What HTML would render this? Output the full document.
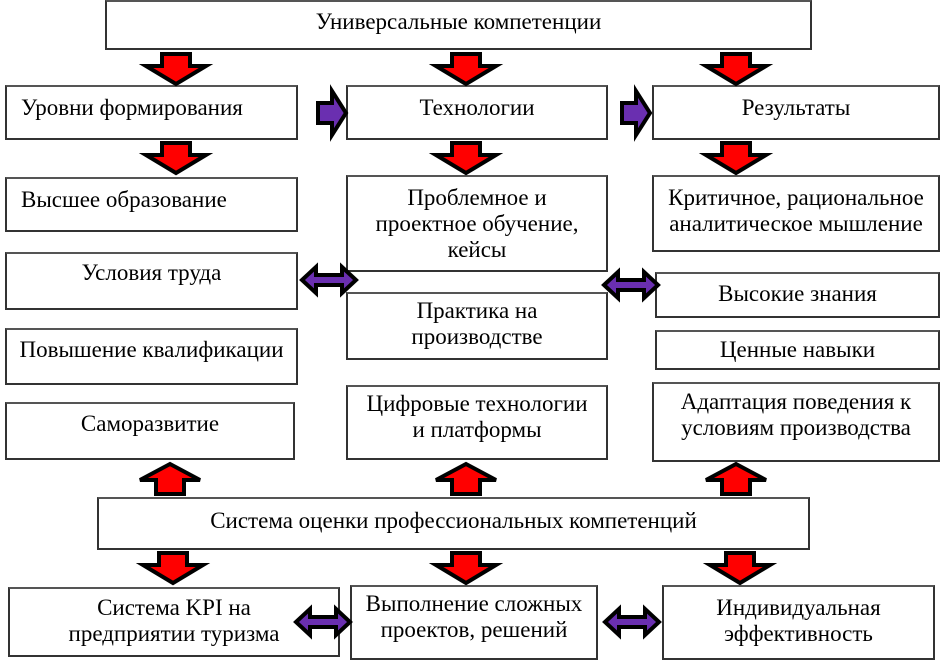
<!DOCTYPE html>
<html><head><meta charset="utf-8"><style>
body{margin:0;background:#fff;width:943px;height:662px;position:relative;overflow:hidden;font-family:"Liberation Serif",serif;font-size:23px;color:#000}
.b{position:absolute;box-sizing:border-box;border:2px solid #333;border-top-color:#555;background:#fff;display:flex;align-items:center;justify-content:center;text-align:center;line-height:26px;padding-bottom:6px;white-space:nowrap}
svg{position:absolute;left:0;top:0}
</style></head><body>
<div class="b" style="left:105px;top:0;width:707px;height:50px">Универсальные компетенции</div>
<div class="b" style="left:5px;top:85px;width:293px;height:55px;justify-content:flex-start;padding-left:14px;padding-bottom:10px">Уровни формирования</div>
<div class="b" style="left:346px;top:85px;width:262px;height:55px;padding-bottom:10px">Технологии</div>
<div class="b" style="left:652px;top:85px;width:288px;height:55px;padding-bottom:10px">Результаты</div>

<div class="b" style="left:5px;top:177px;width:293px;height:55px;justify-content:flex-start;padding-left:14px;padding-bottom:10px">Высшее образование</div>
<div class="b" style="left:5px;top:252px;width:293px;height:58px;padding-bottom:16px">Условия труда</div>
<div class="b" style="left:5px;top:328px;width:293px;height:57px;padding-bottom:14px">Повышение квалификации</div>
<div class="b" style="left:5px;top:402px;width:290px;height:58px;padding-bottom:14px">Саморазвитие</div>

<div class="b" style="left:346px;top:175px;width:262px;height:97px;padding-bottom:0px">Проблемное и<br>проектное обучение,<br>кейсы</div>
<div class="b" style="left:346px;top:292px;width:262px;height:68px;padding-bottom:4px">Практика на<br>производстве</div>
<div class="b" style="left:346px;top:385px;width:262px;height:75px;padding-bottom:12px">Цифровые технологии<br>и платформы</div>

<div class="b" style="left:652px;top:175px;width:288px;height:77px;padding-bottom:6px">Критичное, рациональное<br>аналитическое мышление</div>
<div class="b" style="left:655px;top:272px;width:285px;height:46px;padding-bottom:2px">Высокие знания</div>
<div class="b" style="left:655px;top:330px;width:285px;height:40px;padding-bottom:0px">Ценные навыки</div>
<div class="b" style="left:652px;top:382px;width:288px;height:80px;padding-bottom:14px">Адаптация поведения к<br>условиям производства</div>

<div class="b" style="left:97px;top:497px;width:713px;height:53px">Система оценки профессиональных компетенций</div>

<div class="b" style="left:8px;top:587px;width:332px;height:70px;padding-bottom:2px">Система KPI на<br>предприятии туризма</div>
<div class="b" style="left:350px;top:585px;width:248px;height:75px;padding-bottom:12px">Выполнение сложных<br>проектов, решений</div>
<div class="b" style="left:662px;top:585px;width:273px;height:75px;padding-bottom:4px">Индивидуальная<br>эффективность</div>

<svg width="943" height="662" viewBox="0 0 943 662">
<defs>
<g id="dn"><polygon points="-14,0 14,0 14,12 30,12 0,30 -30,12 -14,12" fill="#f00" stroke="#000" stroke-width="4" stroke-linejoin="miter"/></g>
<g id="up"><polygon points="-14,30 14,30 14,16 30,16 0,0 -30,16 -14,16" fill="#f00" stroke="#000" stroke-width="4"/></g>
<g id="rt"><polygon points="0,-10 14,-10 14,-22 28,0 14,22 14,10 0,10" fill="#6a2fb0" stroke="#000" stroke-width="4"/></g>
<g id="lr"><polygon points="0,0 14,-13 14,-5 40,-5 40,-13 54,0 40,13 40,5 14,5 14,13" fill="#6a2fb0" stroke="#000" stroke-width="4"/></g>
</defs>
<use href="#dn" x="176" y="54"/><use href="#dn" x="466" y="54"/><use href="#dn" x="736" y="54"/>
<use href="#dn" x="176" y="143"/><use href="#dn" x="466" y="143"/><use href="#dn" x="736" y="143"/>
<use href="#rt" x="318" y="113"/><use href="#rt" x="622" y="113"/>
<use href="#lr" x="302" y="280"/><use href="#lr" x="604" y="285"/>
<use href="#up" x="170" y="464"/><use href="#up" x="466" y="464"/><use href="#up" x="736" y="464"/>
<use href="#dn" x="173" y="553"/><use href="#dn" x="466" y="553"/><use href="#dn" x="740" y="553"/>
<use href="#lr" x="296" y="622"/><use href="#lr" x="605" y="622"/>
</svg>
</body></html>
